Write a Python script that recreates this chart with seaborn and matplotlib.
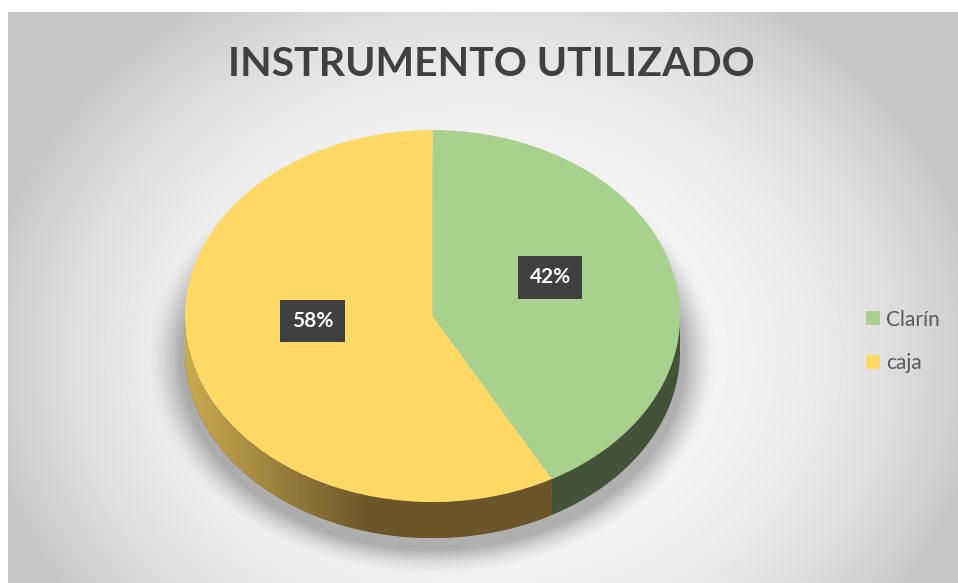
import numpy as np
import matplotlib
matplotlib.use('Agg')
import matplotlib.pyplot as plt
from matplotlib.patches import Polygon
import seaborn as sns

# datos del grafico
categorias = ['Clarín', 'caja']
porcentajes = [42, 58]
colores_cara = ['#A9D18E', '#FFD966']
colores_lado = ['#435339', '#6B5529']
titulo = 'INSTRUMENTO UTILIZADO'

sns.set_theme(style='white')
plt.rcParams['font.family'] = ['Lato', 'DejaVu Sans']

W, H = 958, 583
fig = plt.figure(figsize=(W / 100, H / 100), dpi=100)
fig.patch.set_facecolor('white')

# fondo con degradado radial
bg = fig.add_axes([8 / W, 0, 1 - 8 / W, 1 - 12 / H])
yy, xx = np.mgrid[-1:1:300j, -1:1:500j]
d = np.sqrt(xx ** 2 + ((yy - 0.2) / 1.4) ** 2)
gris = np.clip(0.975 - 0.16 * d ** 3, 0.785, 1)
bg.imshow(np.dstack([gris, gris, gris]), aspect='auto', extent=(0, 1, 0, 1))
bg.set_axis_off()

# ejes de la torta: el circulo unidad se ve como elipse
cx, cy, rx, ry = 432.5, 316, 247.5, 186
xl, yb, yt = 1.3, -1.4, 1.05
ax = fig.add_axes([(cx - xl * rx) / W, 1 - (cy - yb * ry) / H,
                   2 * xl * rx / W, (yt - yb) * ry / H])
ax.patch.set_alpha(0)
prof = 36 / ry

# sombra suave
sy, sx = np.mgrid[yb:yt:400j, -xl:xl:500j]
ds = np.sqrt((sx / 1.02) ** 2 + ((sy + prof + 0.04) / 1.03) ** 2)
alfa = 0.28 * np.clip((1.13 - ds) / 0.13, 0, 1) ** 1.5
sombra = np.zeros(sy.shape + (4,))
sombra[..., 3] = alfa
ax.imshow(sombra, extent=(-xl, xl, yb, yt), origin='lower', aspect='auto', zorder=0)

# lados (parte frontal del cilindro)
frac = np.array(porcentajes) / sum(porcentajes)
bordes = 90 - 360 * np.concatenate([[0], np.cumsum(frac)])
for i in range(len(porcentajes)):
    th = np.radians(np.linspace(bordes[i + 1], bordes[i], 400))
    th = th[np.sin(th) <= 0]
    if len(th) == 0:
        continue
    xs = np.cos(th)
    ys = np.sin(th)
    pts = np.concatenate([np.column_stack([xs, ys]),
                          np.column_stack([xs[::-1], ys[::-1] - prof])])
    poly = Polygon(pts, closed=True, facecolor=colores_lado[i], edgecolor='none', zorder=1)
    ax.add_patch(poly)
    if i == 1:
        # degradado horizontal en el lado amarillo
        gx = np.linspace(-1, 1, 400)
        t = np.clip((gx + 1.0) / 0.75, 0, 1)
        c0 = np.array([0xCB, 0xAB, 0x50]) / 255
        c1 = np.array([0x6B, 0x55, 0x29]) / 255
        grad = (1 - t)[:, None] * c0 + t[:, None] * c1
        im = ax.imshow(grad[None, :, :], extent=(-1, 1, -1 - prof, 0), aspect='auto', zorder=1.5)
        im.set_clip_path(poly)

wedges, textos, autotextos = ax.pie(
    porcentajes, colors=colores_cara, startangle=90, counterclock=False,
    autopct='%1.0f%%', pctdistance=0.5, radius=1, center=(0, 0),
    wedgeprops=dict(linewidth=0, zorder=2),
    textprops=dict(color='white', fontsize=15, fontweight='bold'))

pos_etiquetas = [(0.475, 0.207), (-0.485, -0.027)]
for t, p in zip(autotextos, pos_etiquetas):
    t.set_position(p)
    t.set_zorder(5)
    t.set_bbox(dict(boxstyle='square,pad=0.55', facecolor='#404040', edgecolor='none'))

ax.set_xlim(-xl, xl)
ax.set_ylim(yb, yt)
ax.set_aspect('auto')
ax.set_axis_off()

fig.text(0.5 + 12 / W, 1 - 64 / H, titulo, ha='center', va='center',
         fontsize=29.5, fontweight='bold', color='#404040')

fig.legend(wedges, categorias, loc='center left', bbox_to_anchor=(866 / W, 1 - 341.5 / H),
           frameon=False, fontsize=15, labelcolor='#595959', handlelength=0.65,
           handleheight=0.65, handletextpad=0.3, labelspacing=1.15,
           borderpad=0, borderaxespad=0)

fig.savefig('out.png', dpi=100)
